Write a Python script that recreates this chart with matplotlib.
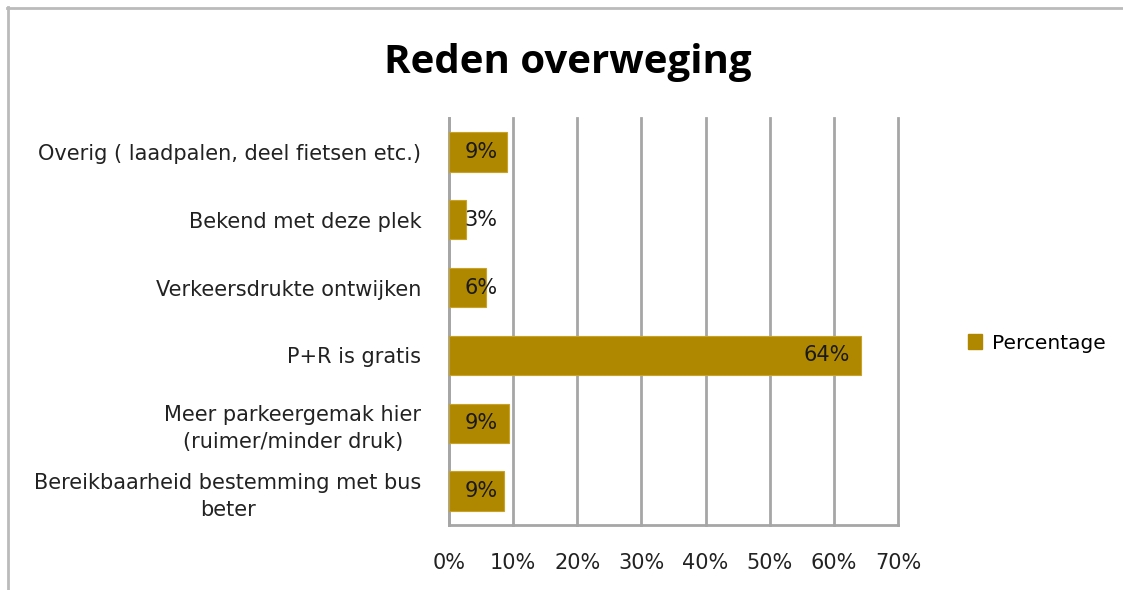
import matplotlib
matplotlib.use("Agg")
import matplotlib.pyplot as plt
from matplotlib.lines import Line2D
from matplotlib.patches import Patch

categories = [
    "Bereikbaarheid bestemming met bus\nbeter",
    "Meer parkeergemak hier\n(ruimer/minder druk)",
    "P+R is gratis",
    "Verkeersdrukte ontwijken",
    "Bekend met deze plek",
    "Overig ( laadpalen, deel fietsen etc.)",
]
values = [8.6, 9.4, 64.3, 5.8, 2.7, 9.0]
labels = ["9%", "9%", "64%", "6%", "3%", "9%"]
xticks = [0, 10, 20, 30, 40, 50, 60, 70]
xticklabels = ["0%", "10%", "20%", "30%", "40%", "50%", "60%", "70%"]

BAR = "#B08800"
GRID = "#A6A6A6"
W, H = 1123, 590

plt.rcParams['font.family'] = ['DejaVu Sans']
fig = plt.figure(figsize=(W / 100, H / 100), dpi=100)
ax = fig.add_axes([449 / W, 1 - 525 / H, (898 - 449) / W, (525 - 118) / H])

ypos = list(range(len(categories)))
ax.barh(ypos, values, height=0.58, color=BAR, edgecolor="#C9A22A", linewidth=0.8, zorder=3)
ax.set_xlim(0, 70)
ax.set_ylim(-0.5, len(categories) - 0.5)
ax.set_xticks(xticks)
ax.set_xticklabels(xticklabels, fontsize=15, color="#222222")
ax.set_yticks(ypos)
ax.set_yticklabels(categories, fontsize=15, color="#222222", multialignment="center", linespacing=1.45)
ax.tick_params(axis="x", length=0, pad=20)
ax.tick_params(axis="y", length=0, pad=20)
ax.grid(axis="x", color=GRID, linewidth=2, zorder=0)
for gl in ax.xaxis.get_gridlines():
    gl.set_clip_on(False)
for s in ["top", "right"]:
    ax.spines[s].set_visible(False)
for s in ["left", "bottom"]:
    ax.spines[s].set_color(GRID)
    ax.spines[s].set_linewidth(2)

for y, v, lab in zip(ypos, values, labels):
    xr = max(v - 1.8, 7.6)
    ax.text(xr, y, lab, ha="right", va="center", fontsize=15, color="#1a1a1a", zorder=4)

fig.text(568 / W, 1 - 62 / H, "Reden overweging", ha="center", va="center",
         fontsize=29, fontweight="bold", family=["Open Sans", "DejaVu Sans"])

handle = Patch(facecolor=BAR, edgecolor=BAR)
fig.legend([handle], ["Percentage"], loc="center left", bbox_to_anchor=(950 / W, 1 - 343 / H),
           frameon=False, fontsize=14.5, handlelength=0.7, handleheight=0.7, handletextpad=0.5)

# chart border (top and left)
fig.add_artist(Line2D([7 / W, 1.0], [1 - 7.5 / H, 1 - 7.5 / H], color="#BBBBBB", linewidth=2, transform=fig.transFigure))
fig.add_artist(Line2D([7.5 / W, 7.5 / W], [0, 1 - 7 / H], color="#BBBBBB", linewidth=2, transform=fig.transFigure))

fig.savefig("out.png", dpi=100, facecolor="white")
